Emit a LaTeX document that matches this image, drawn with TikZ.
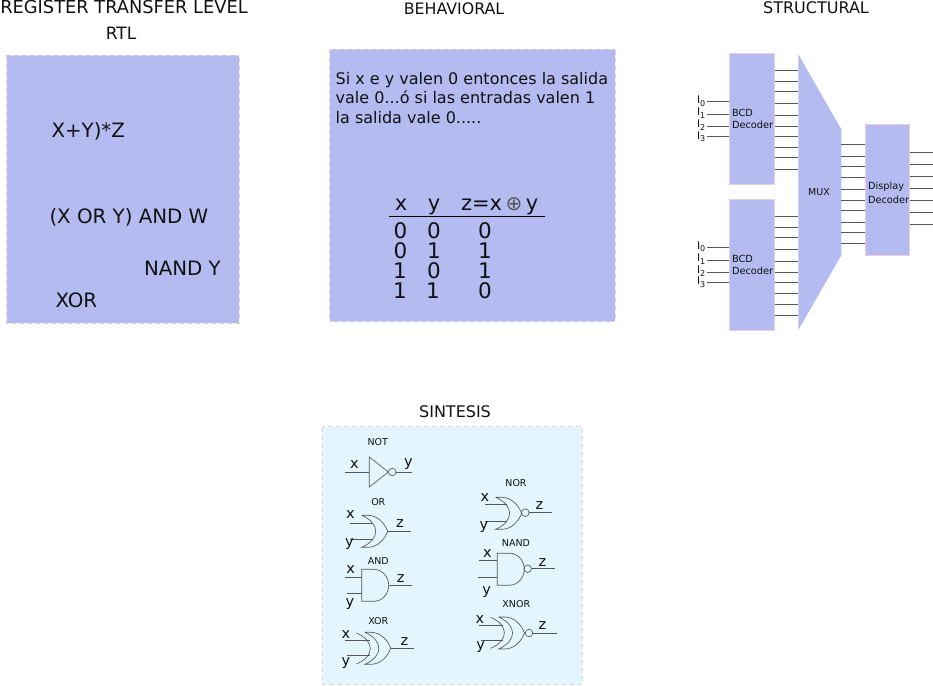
\documentclass[tikz,border=0pt]{standalone}
\usepackage{fontspec}
\setmainfont{DejaVu Sans}
\newcommand{\fs}[1]{\fontsize{#1}{#1}\selectfont}
\definecolor{panelblue}{HTML}{B3BBF0}
\definecolor{panelsky}{HTML}{E3F6FD}
\definecolor{edgepink}{HTML}{F0CCD8}
\definecolor{edgegrey}{HTML}{DDD6E0}
\definecolor{wire}{HTML}{555555}
\definecolor{ink}{HTML}{111111}
\tikzset{
  txt/.style={inner sep=0pt,outer sep=0pt,text=ink,font=\fs{#1}},
  txt/.default=16,
  panel/.style={draw=edgegrey,line width=0.8pt,dash pattern=on 5pt off 3pt},
  blockbox/.style={draw=edgepink,fill=panelblue,line width=0.7pt,inner sep=0pt,outer sep=0pt},
  wr/.style={draw=wire,line width=0.8pt},
  gl/.style={draw=wire,line width=0.65pt},
  gatebody/.pic={
    \draw[gl] (0,-16) -- (6,-16) .. controls (16,-16) and (23,-8) .. (26,0) .. controls (23,8) and (16,16) .. (6,16) -- (0,16) .. controls (18.7,8) and (18.7,-8) .. (0,-16);
  },
  xorback/.pic={
    \draw[gl] (0,-15.5) .. controls (18.5,-8) and (18.5,8) .. (0,15.5);
  },
  andbody/.pic={
    \draw[gl] (0,-16) -- (12,-16) .. controls (21,-16) and (27,-8) .. (27,0) .. controls (27,8) and (21,16) .. (12,16) -- (0,16) -- cycle;
  }
}
\newcommand{\lab}[5]{\node[txt=#4] (#1) at (#2,#3) {#5};}
\begin{document}
\begin{tikzpicture}[x=1pt,y=-1pt]
\useasboundingbox (0,0) rectangle (933,685);
% panels
\path[fill=panelblue,panel] (6.5,55.5) rectangle (239,323);
\path[fill=panelblue,panel] (329.5,49.5) rectangle (615,321.5);
\path[fill=panelsky,panel] (322.5,426.5) rectangle (582,684);
% titles
\lab{tRtlA}{124}{7}{17.8}{REGISTER TRANSFER LEVEL}
\lab{tRtlB}{121}{33}{17}{RTL}
\lab{tBeh}{454}{9}{15.8}{BEHAVIORAL}
\lab{tStr}{816}{8}{16}{STRUCTURAL}
\lab{tSin}{455}{412}{16}{SINTESIS}
% RTL
\node[txt=19.8,anchor=west] (r1) at (51.5,131) {X+Y)*Z};
\node[txt=19.8,anchor=west] (r2) at (49.5,217.5) {(X OR Y) AND W};
\node[txt=19.8,anchor=west] (r3) at (144,268.5) {NAND Y};
\node[txt=19.8,anchor=west] (r4) at (55.5,300.5) {XOR};
% behavioral
\node[anchor=north west,inner sep=0pt,align=left,text=ink,font=\fontsize{16}{19.6}\selectfont] (para) at (335.5,72) {Si x e y valen 0 entonces la salida\\vale 0...ó si las entradas valen 1\\la salida vale 0.....};
\node[txt=21,anchor=base] (hx) at (401,210) {x};
\node[txt=21,anchor=base] (hy) at (434,210) {y};
\node[txt=21,anchor=base west] (hz) at (461,210) {z=x\,{\fs{20}\color{wire}⊕}\,y};
\coordinate (ruleL) at (389,216.5);
\coordinate (ruleR) at (545,216.5);
\draw[black,line width=0.9pt] (ruleL) -- (ruleR);
\lab{a1}{400.5}{230.5}{21.5}{0}\lab{b1}{434}{230.5}{21.5}{0}\lab{c1}{485}{230.5}{21.5}{0}
\lab{a2}{400.5}{250.5}{21.5}{0}\lab{b2}{434}{250.5}{21.5}{1}\lab{c2}{485}{250.5}{21.5}{1}
\lab{a3}{400}{270.5}{21.5}{1}\lab{b3}{434}{270.5}{21.5}{0}\lab{c3}{485}{270.5}{21.5}{1}
\lab{a4}{400}{291}{21.5}{1}\lab{b4}{433}{291}{21.5}{1}\lab{c4}{485}{291}{21.5}{0}
% structural
\node[blockbox,minimum width=45.4pt,minimum height=131pt] (bcdA) at (752,118.8) {};
\node[blockbox,minimum width=45.4pt,minimum height=131pt] (bcdB) at (752,264.8) {};
\node[blockbox,minimum width=44.7pt,minimum height=131pt] (disp) at (887.35,189.8) {};
\path[fill=panelblue] (798.3,54.3) coordinate (muxA) -- (841.3,129.3) coordinate (muxB) -- (841.3,255.3) coordinate (muxC) -- (798.3,330) coordinate (muxD) -- cycle;
\foreach \y in {70.3,81.3,91.7,103,115,126.3,136.3,147.3,157.7,169}
  \draw[wr] (bcdA.east |- 0,\y) -- (muxA |- 0,\y);
\foreach \y in {216.3,227.7,237.7,249,261,272.3,282.3,293.3,304,315.3}
  \draw[wr] (bcdB.east |- 0,\y) -- (muxA |- 0,\y);
\foreach \y in {144.7,156,166.3,177.3,189.7,200.3,210.3,222,232.3,243.3}
  \draw[wr] (muxB |- 0,\y) -- (disp.west |- 0,\y);
\foreach \y in {152.3,164.3,176.3,188.3,200.7,212.7,224.7}
  \draw[wr] (disp.east |- 0,\y) -- (933,\y);
\foreach \y in {101.7,114.3,126.3,136.7,247.7,260.7,272.3,282.3}
  \draw[wr] (707.3,\y) -- (bcdA.west |- 0,\y);
\newcommand{\ilab}[3]{\node[txt=10.5,anchor=west] (#1) at (697,#2) {I\raisebox{-2.5pt}{\fs{8}#3}};}
\ilab{ia0}{101}{0}\ilab{ia1}{113}{1}\ilab{ia2}{125}{2}\ilab{ia3}{136.5}{3}
\ilab{ib0}{246.5}{0}\ilab{ib1}{259}{1}\ilab{ib2}{271}{2}\ilab{ib3}{282}{3}
\node[txt=9.8,anchor=west] (bcdAa) at (732,112.7) {BCD};
\node[txt=9.8,anchor=west] (bcdAb) at (732,125.3) {Decoder};
\node[txt=9.8,anchor=west] (bcdBa) at (732,258.7) {BCD};
\node[txt=9.8,anchor=west] (bcdBb) at (732,271.3) {Decoder};
\node[txt=9.8,anchor=west] (dispa) at (868,187) {Display};
\node[txt=9.8,anchor=west] (dispb) at (868,199.5) {Decoder};
\lab{muxt}{819}{192.5}{9.5}{MUX}
% NOT
\lab{gNot}{377.7}{442.3}{9.5}{NOT}
\draw[gl] (369.3,457) -- (388.3,472) -- (369.3,487) -- cycle;
\draw[gl] (392.2,472) circle (3.8);
\draw[gl] (345,472.3) -- (369.3,472.3);
\draw[wr] (396,472) -- (411.7,472);
\lab{nx}{354.3}{464.5}{14.5}{x}\lab{ny}{408.3}{464}{14.5}{y}
% OR
\lab{gOr}{378.3}{501.7}{9.5}{OR}
\pic at (361.7,531.3) {gatebody};
\draw[gl] (350,523.3) -- (371.7,523.3) (350,539) -- (372,539);
\draw[wr] (387.7,531) -- (410.7,531);
\lab{ox}{350.3}{515}{14.5}{x}\lab{oy}{349.3}{544.3}{14.5}{y}\lab{oz}{400}{524}{14.5}{z}
% AND
\lab{gAnd}{378.3}{561}{9.5}{AND}
\pic at (361.7,585.3) {andbody};
\draw[gl] (345,577.3) -- (361.7,577.3);
\draw[wr] (346.7,593.7) -- (361.7,593.7);
\draw[gl] (388.7,585) -- (411.7,585);
\lab{ax}{350.7}{570}{14.5}{x}\lab{ay}{350}{604.3}{14.5}{y}\lab{az}{400.7}{579}{14.5}{z}
% XOR
\lab{gXor}{378.3}{620.7}{9.5}{XOR}
\pic at (364.8,648.3) {gatebody};
\pic at (356.4,648.5) {xorback};
\draw[gl] (345,640.7) -- (370,640.7);
\draw[gl] (346.7,655.7) -- (370,655.7);
\draw[gl] (391,648.3) -- (414,648.3);
\lab{xx}{346}{635}{14.5}{x}\lab{xy}{346}{662.7}{14.5}{y}\lab{xz}{404.3}{641.3}{14.5}{z}
% NOR
\lab{gNor}{516}{483}{9.5}{NOR}
\pic at (495.6,513.3) {gatebody};
\draw[gl] (506.7,521.7) -- (485,521.7);
\draw[wr] (485,504.7) -- (506.7,504.7);
\draw[gl] (525.3,512.7) circle (3.8);
\draw[wr] (529.3,512.7) -- (552.3,512.7);
\lab{ux}{485}{497.3}{14.5}{x}\lab{uy}{484}{526.7}{14.5}{y}\lab{uz}{539.3}{506}{14.5}{z}
% NAND
\lab{gNand}{516}{543.3}{9.5}{NAND}
\pic at (497.3,569.2) {andbody};
\draw[gl] (527.7,568.7) circle (3.8);
\draw[wr] (479.3,560.7) -- (497.3,560.7);
\draw[gl] (478.3,577.3) -- (497.3,577.3);
\draw[gl] (531.7,568.7) -- (555,568.7);
\lab{nnx}{487.3}{553.3}{14.5}{x}\lab{nny}{486.7}{591.7}{14.5}{y}\lab{nnz}{542.3}{562.3}{14.5}{z}
% XNOR
\lab{gXnor}{516.3}{604}{9.5}{XNOR}
\pic at (498.5,633) {gatebody};
\pic at (490.5,632.8) {xorback};
\draw[gl] (529,633) circle (3.8);
\draw[gl] (479.3,625.3) -- (502.7,625.3);
\draw[gl] (480.7,640.3) -- (503.3,640.3);
\draw[wr] (533,633) -- (556.7,633);
\lab{wx}{480}{619.3}{14.5}{x}\lab{wy}{480.7}{646.7}{14.5}{y}\lab{wz}{542.3}{626}{14.5}{z}
\end{tikzpicture}
\end{document}
